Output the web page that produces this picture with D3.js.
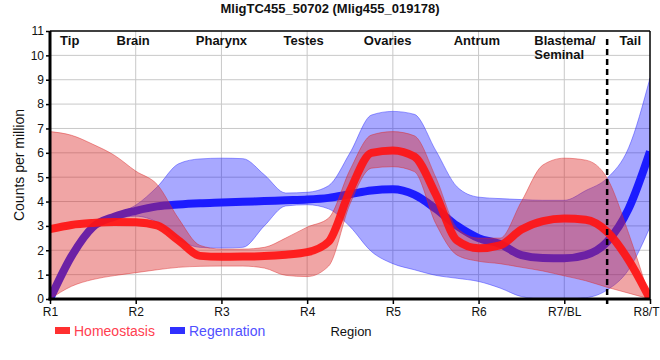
<!DOCTYPE html>
<html>
<head>
<meta charset="utf-8">
<script src="https://cdn.jsdelivr.net/npm/d3@7"></script>
<style>
  html, body { margin: 0; padding: 0; background: #fff; }
  svg { display: block; font-family: "Liberation Sans", Arial, sans-serif; }
</style>
</head>
<body>
<svg id="chart" width="660" height="360"></svg>
<script>
// ---------------- data ----------------
const title = "MligTC455_50702 (Mlig455_019178)";
const regions = ["R1", "R2", "R3", "R4", "R5", "R6", "R7/BL", "R8/T"];
const yTicks = [0, 1, 2, 3, 4, 5, 6, 7, 8, 9, 10, 11];
// sample positions (region index, quarter steps)
const pos = [0, 0.25, 0.5, 0.75, 1, 1.25, 1.5, 1.75, 2, 2.25, 2.5, 2.75, 3, 3.25, 3.5, 3.75, 4,
             4.25, 4.5, 4.75, 5, 5.25, 5.5, 5.75, 6, 6.25, 6.5, 6.75, 7];
const homeo = [2.87, 3.04, 3.12, 3.16, 3.15, 3.02, 2.4, 1.77, 1.73, 1.74, 1.76, 1.82, 1.92, 2.35, 4.45,
               6.0, 6.1, 5.85, 4.3, 2.4, 2.08, 2.2, 2.85, 3.2, 3.3, 3.25, 2.76, 1.6, 0];
const homeoHi = [6.87, 6.72, 6.35, 5.9, 5.25, 4.7, 3.3, 2.2, 2.05, 2.05, 2.12, 2.5, 2.95, 3.32, 5.3,
                 6.73, 6.87, 6.7, 5.0, 2.9, 2.5, 2.5, 4.0, 5.5, 5.78, 5.7, 4.96, 2.7, 0];
const homeoLo = [0, 0.52, 0.8, 0.96, 1.08, 1.2, 1.3, 1.34, 1.35, 1.35, 1.27, 0.97, 0.92, 1.35, 3.9,
                 5.37, 5.43, 5.23, 3.1, 1.8, 1.55, 1.45, 1.3, 1.15, 0.95, 0.75, 0.48, 0.24, 0];
const regen = [0, 1.75, 2.95, 3.38, 3.62, 3.8, 3.88, 3.93, 3.96, 3.99, 4.02, 4.05, 4.08, 4.15, 4.3,
               4.45, 4.5, 4.28, 3.7, 3.0, 2.5, 2.26, 1.8, 1.68, 1.67, 1.8, 2.35, 3.7, 6.05];
const regenHi = [0, 1.85, 3.0, 3.45, 3.85, 4.6, 5.55, 5.75, 5.78, 5.76, 5.1, 4.35, 4.38, 4.65, 6.0,
                 7.55, 7.7, 7.58, 6.1, 4.6, 4.18, 4.12, 4.08, 4.05, 4.05, 4.45, 4.96, 6.2, 9.07];
const regenLo = [0, 1.6, 2.85, 3.25, 3.4, 3.15, 2.45, 2.12, 2.09, 2.12, 3.0, 3.82, 3.87, 3.7, 2.97,
                 1.95, 1.45, 1.2, 0.97, 0.85, 0.72, 0.45, 0.1, 0, 0, 0.05, 0.37, 1.2, 2.95];
const topLabels = [
  {text: "Tip", at: 0.23}, {text: "Brain", at: 0.97}, {text: "Pharynx", at: 2.0},
  {text: "Testes", at: 2.96}, {text: "Ovaries", at: 3.94}, {text: "Antrum", at: 4.98},
  {text: "Tail", at: 6.77}
];
const blastemaLines = ["Blastema/", "Seminal"];
const blastemaAt = 5.65;
const dividerAt = 6.5;
const seriesNames = ["Homeostasis", "Regenration"];

// ---------------- layout ----------------
const svg = d3.select("#chart");
const L = 50, R = 650, T = 31, B = 299;
const x = d3.scaleLinear().domain([0, 7]).range([L, R]);
const y = d3.scaleLinear().domain([0, 11]).range([B, T]);

svg.append("defs").append("clipPath").attr("id", "clip")
  .append("rect").attr("x", L).attr("y", T).attr("width", R - L).attr("height", B - T);

// grid
const grid = svg.append("g");
grid.selectAll("line.h").data(yTicks.filter(v => v > 0 && v < 11)).join("line")
  .attr("x1", L).attr("x2", R).attr("y1", d => y(d)).attr("y2", d => y(d))
  .attr("stroke", "#c8c8c8").attr("stroke-width", 1);
grid.selectAll("line.v").data(d3.range(1, regions.length - 1)).join("line")
  .attr("y1", T).attr("y2", B).attr("x1", d => x(d)).attr("x2", d => x(d))
  .attr("stroke", "#c8c8c8").attr("stroke-width", 1);

const rows = pos.map((p, i) => ({p, h: homeo[i], hHi: homeoHi[i], hLo: homeoLo[i],
                                 r: regen[i], rHi: regenHi[i], rLo: regenLo[i]}));
const curve = d3.curveMonotoneX;
const area = (hi, lo) => d3.area().curve(curve).x(d => x(d.p)).y0(d => y(d[lo])).y1(d => y(d[hi]));
const line = k => d3.line().curve(curve).x(d => x(d.p)).y(d => y(d[k]));

const plot = svg.append("g").attr("clip-path", "url(#clip)");
plot.append("path").datum(rows).attr("d", area("rHi", "rLo"))
  .attr("fill", "rgba(0,0,255,0.34)").attr("stroke", "rgba(40,40,255,0.45)").attr("stroke-width", 1);
plot.append("path").datum(rows).attr("d", line("r"))
  .attr("fill", "none").attr("stroke", "#1c1cff").attr("stroke-width", 8);
plot.append("path").datum(rows).attr("d", area("hHi", "hLo"))
  .attr("fill", "rgba(220,40,40,0.42)").attr("stroke", "rgba(220,40,40,0.45)").attr("stroke-width", 1);
plot.append("path").datum(rows).attr("d", line("h"))
  .attr("fill", "none").attr("stroke", "rgba(255,20,20,0.92)").attr("stroke-width", 8);

// frame
svg.append("line").attr("x1", L).attr("x2", R).attr("y1", T).attr("y2", T)
  .attr("stroke", "#000").attr("stroke-width", 1.5);
svg.append("line").attr("x1", R).attr("x2", R).attr("y1", T).attr("y2", B)
  .attr("stroke", "#000").attr("stroke-width", 1.5);

// divider
svg.append("line").attr("x1", x(dividerAt)).attr("x2", x(dividerAt)).attr("y1", T + 8).attr("y2", B + 5)
  .attr("stroke", "#000").attr("stroke-width", 2.5).attr("stroke-dasharray", "6,4");

// axes
const yAxis = svg.append("g").attr("transform", `translate(${L},0)`)
  .call(d3.axisLeft(y).tickValues(yTicks).tickSize(4).tickPadding(2));
yAxis.select(".domain").attr("stroke-width", 3).attr("d", `M0,${T}V${B + 1.5}`);
yAxis.selectAll("text").attr("font-size", 12).attr("fill", "#111")
  .attr("font-family", "'Liberation Sans', Arial, sans-serif");
yAxis.selectAll(".tick line").attr("stroke-width", 1.5);

const xAxis = svg.append("g").attr("transform", `translate(0,${B})`)
  .call(d3.axisBottom(x).tickValues(d3.range(regions.length)).tickFormat(i => regions[i]).tickSize(5).tickPadding(3));
xAxis.select(".domain").attr("stroke-width", 3).attr("d", `M${L - 1.5},0H${R}`);
xAxis.selectAll("text").attr("font-size", 12).attr("fill", "#111")
  .attr("font-family", "'Liberation Sans', Arial, sans-serif");
xAxis.selectAll(".tick line").attr("stroke-width", 1.5);
// last label sits against the right edge, as in the reference
xAxis.selectAll(".tick text").filter(i => i === regions.length - 1)
  .attr("text-anchor", "end").attr("x", 9);

// top region labels
svg.selectAll("text.top").data(topLabels).join("text")
  .attr("x", d => x(d.at)).attr("y", 45).attr("text-anchor", "middle")
  .attr("font-size", 13).attr("font-weight", "bold").attr("fill", "#111").text(d => d.text);
svg.selectAll("text.bl").data(blastemaLines).join("text")
  .attr("x", x(blastemaAt)).attr("y", (d, i) => 45 + i * 14).attr("text-anchor", "start")
  .attr("font-size", 13).attr("font-weight", "bold").attr("fill", "#111").text(d => d);

// title
svg.append("text").attr("x", 330).attr("y", 13).attr("text-anchor", "middle")
  .attr("font-size", 13).attr("font-weight", "bold").attr("fill", "#111").text(title);

// y title
svg.append("text").attr("transform", `translate(24,${(T + B) / 2}) rotate(-90)`)
  .attr("text-anchor", "middle").attr("font-size", 14).attr("fill", "#111").text("Counts per million");

// x title
svg.append("text").attr("x", 351).attr("y", 336).attr("text-anchor", "middle")
  .attr("font-size", 13).attr("fill", "#111").text("Region");

// legend
const legend = [
  {name: seriesNames[0], sw: "#ff3030", tc: "#ff4050", x: 55},
  {name: seriesNames[1], sw: "#3030ff", tc: "#5050ff", x: 170}
];
const lg = svg.selectAll("g.lg").data(legend).join("g").attr("transform", d => `translate(${d.x},0)`);
lg.append("rect").attr("x", 0).attr("y", 327).attr("width", 15).attr("height", 7).attr("fill", d => d.sw);
lg.append("text").attr("x", 19).attr("y", 336).attr("font-size", 14).attr("fill", d => d.tc).text(d => d.name);
</script>
</body>
</html>
